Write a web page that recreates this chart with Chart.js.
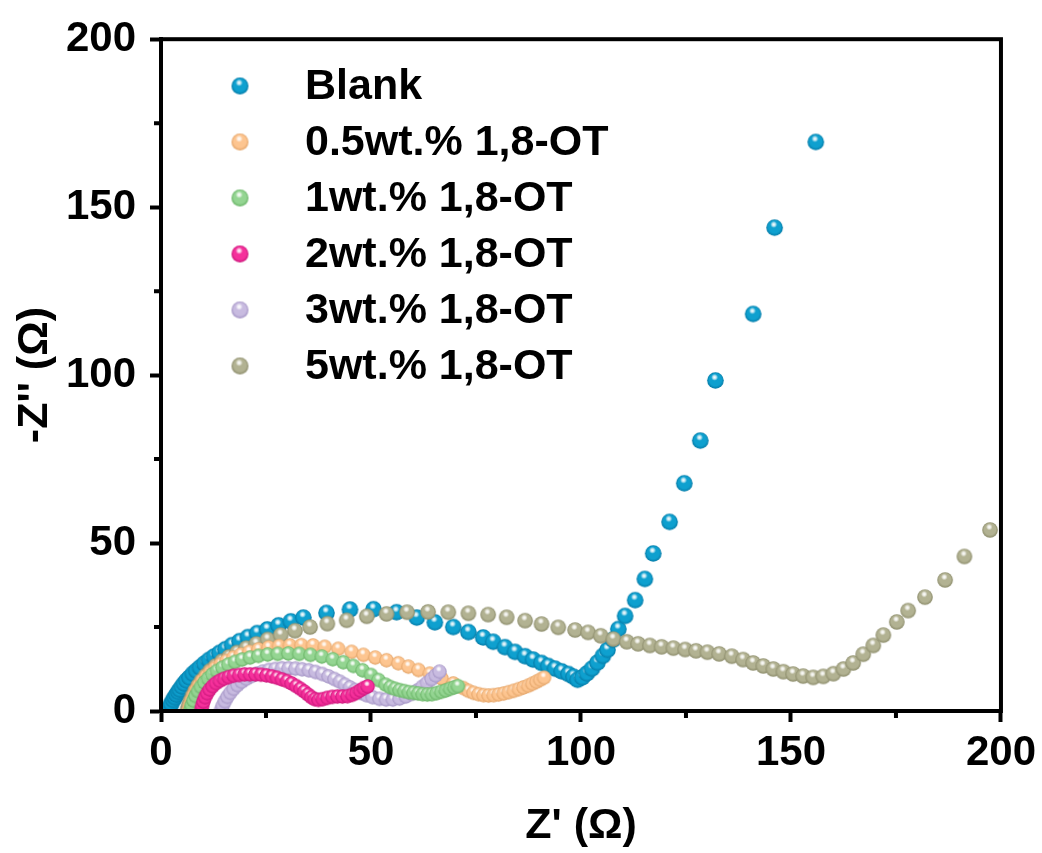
<!DOCTYPE html>
<html>
<head>
<meta charset="utf-8">
<script src="https://cdn.jsdelivr.net/npm/chart.js@4.4.1/dist/chart.umd.min.js"></script>
<style>
  html, body { margin: 0; padding: 0; background: #fff; }
  canvas { display: block; }
</style>
</head>
<body>
<canvas id="nyquist" width="1042" height="853"></canvas>
<script>
// Nyquist plots, Z' vs -Z'' (ohm)
const seriesNames = ['Blank', '0.5wt.% 1,8-OT', '1wt.% 1,8-OT', '2wt.% 1,8-OT', '3wt.% 1,8-OT', '5wt.% 1,8-OT'];

const blankRe = [1.8, 2.1, 2.4, 2.9, 3.3, 3.7, 4.1, 4.5, 5.0, 5.5, 6.1, 6.8, 7.6, 8.4, 9.3, 10.3, 11.4, 12.6, 13.9, 15.3, 16.9, 18.7, 20.7, 22.9, 25.3, 28.0, 30.9, 33.9,
  39.4, 45.0, 50.6, 56.1, 60.9, 65.2, 69.6, 73.2, 76.7, 79.1, 81.9, 84.3, 86.7, 88.6, 90.6, 92.2, 93.8, 95.4, 97.0, 98.2, 99.2, 100.3, 101.4, 102.6, 103.9, 105.2, 106.3, 107.6, 108.9, 110.5, 112.9, 115.2, 117.2, 121.1, 124.6, 128.4, 132.0, 141.0, 146.1, 155.9];
const blankIm = [0.2, 1.2, 2.2, 3.3, 4.1, 4.9, 5.7, 6.4, 7.3, 8.2, 9.1, 10.0, 11.1, 12.0, 13.0, 14.1, 15.2, 16.2, 17.3, 18.4, 19.6, 20.8, 22.0, 23.2, 24.3, 25.5, 26.7, 27.8,
  29.2, 30.2, 30.3, 29.4, 27.8, 26.4, 25.0, 23.5, 21.9, 20.6, 19.0, 17.6, 16.3, 15.3, 14.3, 13.4, 12.6, 11.8, 11.0, 10.2, 9.3, 10.0, 11.2, 12.6, 14.4, 16.4, 18.2, 21.2, 24.4, 28.3, 33.0, 39.3, 46.9, 56.3, 67.8, 80.5, 98.4, 118.2, 143.9, 169.4];

const ot05Re = [6.6, 6.9, 7.3, 7.8, 8.4, 9.1, 9.9, 10.8, 11.8, 12.9, 14.2, 15.6, 17.2, 19.0, 21.0, 23.2, 25.6, 28.1, 30.7, 33.4, 36.2, 39.0, 42.2, 45.4, 48.2, 51.0, 53.7, 56.5, 58.9, 61.3, 64.0, 66.8, 69.6,
  72.0, 73.2, 74.4, 75.6, 76.8, 78.0, 79.2, 80.4, 81.6, 82.8, 84.0, 85.2, 86.3, 87.4, 88.4, 89.4, 90.3, 91.2];
const ot05Im = [0.3, 1.8, 3.3, 4.8, 6.3, 7.7, 9.1, 10.4, 11.6, 12.8, 13.9, 14.9, 15.9, 16.8, 17.6, 18.3, 18.9, 19.3, 19.5, 19.6, 19.5, 19.1, 18.5, 17.6, 16.7, 15.9, 15.1, 14.2, 13.2, 12.2, 11.1, 9.7, 8.2,
  6.8, 6.0, 5.4, 5.0, 4.7, 4.6, 4.7, 4.9, 5.2, 5.6, 6.0, 6.5, 7.0, 7.5, 8.1, 8.7, 9.3, 9.9];

const ot1Re = [7.0, 7.3, 7.7, 8.2, 8.8, 9.5, 10.3, 11.2, 12.2, 13.3, 14.6, 16.0, 17.6, 19.3, 21.2, 23.2, 25.4, 27.8, 30.3, 32.9, 35.6, 38.3, 40.9, 43.4, 45.8, 48.0, 50.0, 51.8,
  53.5, 54.6, 55.7, 56.8, 57.9, 59.0, 60.1, 61.2, 62.3, 63.4, 64.5, 65.6, 66.7, 67.8, 68.8, 69.8, 70.7];
const ot1Im = [0.3, 1.7, 3.1, 4.5, 5.9, 7.2, 8.5, 9.7, 10.9, 11.9, 12.9, 13.8, 14.6, 15.3, 15.9, 16.4, 16.8, 17.0, 17.1, 17.0, 16.7, 16.2, 15.4, 14.5, 13.4, 12.1, 10.7, 9.2,
  7.8, 7.1, 6.6, 6.2, 5.9, 5.6, 5.4, 5.2, 5.0, 4.9, 5.0, 5.3, 5.7, 6.1, 6.6, 7.0, 7.4];

const ot2Re = [9.6, 9.8, 10.1, 10.5, 11.0, 11.6, 12.3, 13.1, 14.0, 15.0, 16.1, 17.3, 18.6, 19.9, 21.2, 22.5, 23.8, 25.1, 26.4, 27.6, 28.8, 30.0, 31.1, 32.2, 33.2, 34.1, 35.0, 35.8, 36.6, 37.5, 38.5, 39.6, 40.8, 42.0, 43.2, 44.4, 45.5, 46.5, 47.4, 48.3, 49.2];
const ot2Im = [0.3, 1.5, 2.8, 4.1, 5.3, 6.4, 7.4, 8.3, 9.0, 9.6, 10.1, 10.5, 10.7, 10.9, 10.9, 10.9, 10.8, 10.6, 10.3, 9.9, 9.4, 8.9, 8.2, 7.4, 6.6, 5.8, 4.9, 4.1, 3.5, 3.3, 3.5, 3.9, 4.2, 4.3, 4.3, 4.4, 4.8, 5.4, 6.1, 6.8, 7.3];

const ot3Re = [14.3, 14.7, 15.2, 15.8, 16.5, 17.3, 18.2, 19.2, 20.3, 21.5, 22.8, 24.2, 25.7, 27.2, 28.8, 30.4, 32.0, 33.6, 35.2, 36.8, 38.4, 39.9, 41.3, 42.6, 43.8, 45.0, 46.2, 47.5, 48.9, 50.4, 52.0, 53.6, 55.2, 56.8, 58.3, 59.7, 61.0, 62.2, 63.3, 64.4, 65.4, 66.3];
const ot3Im = [0.3, 1.6, 2.9, 4.2, 5.4, 6.6, 7.7, 8.7, 9.6, 10.4, 11.1, 11.7, 12.2, 12.5, 12.7, 12.7, 12.6, 12.4, 12.1, 11.6, 11.0, 10.3, 9.5, 8.7, 7.8, 7.0, 6.2, 5.4, 4.7, 4.1, 3.6, 3.4, 3.4, 3.7, 4.3, 5.1, 6.1, 7.2, 8.3, 9.5, 10.6, 11.7];

const ot5Re = [6.3, 6.6, 7.0, 7.5, 8.1, 8.8, 9.6, 10.6, 11.7, 13.0, 14.5, 16.2, 18.1, 20.3, 22.7, 25.4, 28.5, 31.9, 35.5, 39.6, 44.2, 49.0, 53.7, 58.6, 63.6, 68.4, 73.2, 77.9, 82.3, 86.7,
  90.6, 94.6, 98.6, 101.7, 104.7, 107.7, 110.9, 113.6, 116.4, 119.2, 122.0, 124.8, 127.4, 130.1, 132.9, 135.9, 138.6, 141.0, 143.4, 145.8, 148.2, 150.5, 152.9, 155.3, 157.7, 160.1, 162.5, 164.8, 167.2, 169.6,
  172.0, 175.2, 177.9, 181.9, 186.7, 191.3, 197.4];
const ot5Im = [0.3, 1.6, 3.0, 4.5, 6.0, 7.5, 9.0, 10.5, 12.0, 13.4, 14.8, 16.1, 17.4, 18.7, 20.0, 21.3, 22.6, 23.9, 25.0, 26.0, 27.0, 28.2, 28.9, 29.4, 29.5, 29.4, 29.1, 28.7, 27.9, 26.9,
  25.9, 24.9, 24.1, 23.4, 22.4, 21.4, 20.6, 20.0, 19.5, 19.1, 18.7, 18.3, 17.9, 17.5, 17.0, 16.3, 15.3, 14.3, 13.4, 12.5, 11.7, 11.0, 10.4, 10.0, 10.3, 11.1, 12.5, 14.3, 16.9, 19.5,
  22.6, 26.5, 29.9, 33.9, 39.0, 46.0, 53.9];

const axisTicks = [0, 50, 100, 150, 200];
const minorTicks = [25, 75, 125, 175];

// base colour, rim colour, plotted ball radius, draw order (lower = on top)
const palette = [
  ['#0ea0cf', '#047aa6', 8.3, 5],
  ['#fdc590', '#e3a468', 7.2, 3],
  ['#94d592', '#68b365', 7.2, 1],
  ['#f5309b', '#c9167a', 7.2, 0],
  ['#c8bbe0', '#a393c4', 7.2, 2],
  ['#b2b292', '#8d8d6c', 7.8, 4]
];

const FONT = "'Liberation Sans', Arial, sans-serif";

// glossy sphere sprite used as point style
function ball(base, rim, r) {
  const c = document.createElement('canvas');
  const s = Math.ceil(r * 2) + 2;
  c.width = s; c.height = s;
  const g = c.getContext('2d');
  const m = s / 2;
  const body = g.createRadialGradient(m, m - r * 0.3, r * 0.1, m, m, r);
  body.addColorStop(0, base);
  body.addColorStop(0.7, base);
  body.addColorStop(1, rim);
  g.fillStyle = body;
  g.beginPath();
  g.arc(m, m, r, 0, Math.PI * 2);
  g.fill();
  // specular spot
  const hx = m - r * 0.1, hy = m - r * 0.38;
  const spot = g.createRadialGradient(hx, hy, 0, hx, hy, r * 0.42);
  spot.addColorStop(0, 'rgba(255,255,255,1)');
  spot.addColorStop(0.45, 'rgba(255,255,255,0.75)');
  spot.addColorStop(1, 'rgba(255,255,255,0)');
  g.fillStyle = spot;
  g.beginPath();
  g.arc(hx, hy, r * 0.42, 0, Math.PI * 2);
  g.fill();
  return c;
}

const pairs = [[blankRe, blankIm], [ot05Re, ot05Im], [ot1Re, ot1Im], [ot2Re, ot2Im], [ot3Re, ot3Im], [ot5Re, ot5Im]];

const datasets = pairs.map(([re, im], i) => {
  const [base, rim, r, order] = palette[i];
  return {
    label: seriesNames[i],
    data: re.map((v, k) => ({ x: v, y: im[k] })),
    pointStyle: ball(base, rim, r),
    legendBall: ball(base, rim, 8.5),
    pointRadius: r,
    showLine: false,
    order: order
  };
});

const frameAndLegend = {
  id: 'frameAndLegend',
  afterDraw(chart) {
    const { ctx, chartArea: a, scales: { x, y } } = chart;
    ctx.save();
    ctx.strokeStyle = '#000';
    ctx.lineWidth = 4;
    ctx.strokeRect(a.left, a.top, a.right - a.left, a.bottom - a.top);

    // short minor ticks between the labelled ones
    ctx.beginPath();
    minorTicks.forEach(v => {
      const px = x.getPixelForValue(v);
      ctx.moveTo(px, a.bottom);
      ctx.lineTo(px, a.bottom + 7);
      const py = y.getPixelForValue(v);
      ctx.moveTo(a.left, py);
      ctx.lineTo(a.left - 7, py);
    });
    ctx.stroke();

    // legend
    ctx.font = 'bold 43px ' + FONT;
    ctx.fillStyle = '#000';
    ctx.textBaseline = 'middle';
    ctx.textAlign = 'left';
    chart.data.datasets.forEach((ds, i) => {
      const cy = 86 + i * 56;
      const img = ds.legendBall;
      ctx.drawImage(img, 240 - img.width / 2, cy - img.height / 2);
      ctx.fillText(ds.label, 305, cy + 1);
    });
    ctx.restore();
  }
};

new Chart(document.getElementById('nyquist'), {
  type: 'scatter',
  data: { datasets },
  options: {
    responsive: false,
    animation: false,
    layout: { padding: { left: 0, right: 40, top: 35, bottom: 0 } },
    plugins: {
      legend: { display: false },
      tooltip: { enabled: false }
    },
    scales: {
      x: {
        type: 'linear',
        min: 0,
        max: 200,
        afterFit: s => { s.height = 142; },
        afterBuildTicks: s => { s.ticks = axisTicks.map(v => ({ value: v })); },
        ticks: { color: '#000', padding: 6, font: { family: FONT, size: 42, weight: 'bold' } },
        grid: { drawOnChartArea: false, drawTicks: true, tickLength: 11, tickWidth: 4, tickColor: '#000' },
        border: { display: true, width: 4, color: '#000' },
        title: { display: true, text: "Z' (Ω)", color: '#000', padding: { top: 0, bottom: 1 }, font: { family: FONT, size: 43, weight: 'bold' } }
      },
      y: {
        type: 'linear',
        min: 0,
        max: 200,
        afterFit: s => { s.width = 161; },
        afterBuildTicks: s => { s.ticks = axisTicks.map(v => ({ value: v })); },
        ticks: { color: '#000', padding: 14, font: { family: FONT, size: 42, weight: 'bold' } },
        grid: { drawOnChartArea: false, drawTicks: true, tickLength: 11, tickWidth: 4, tickColor: '#000' },
        border: { display: true, width: 4, color: '#000' },
        title: { display: true, text: "-Z'' (Ω)", color: '#000', padding: { top: 9, bottom: 0 }, font: { family: FONT, size: 43, weight: 'bold' } }
      }
    }
  },
  plugins: [frameAndLegend]
});
</script>
</body>
</html>
